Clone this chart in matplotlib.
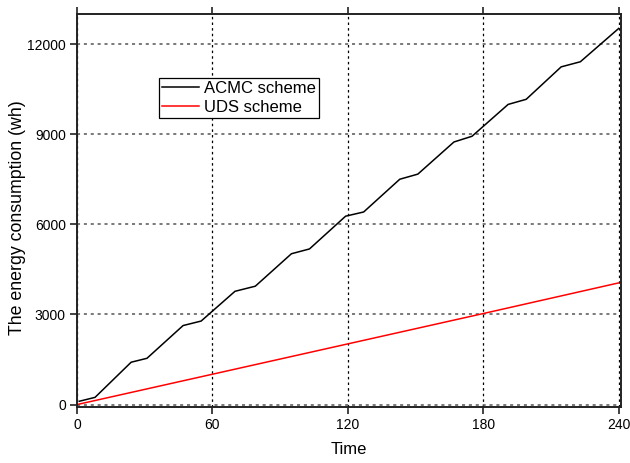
import numpy as np
import matplotlib.pyplot as plt

plt.rcParams['font.family'] = ['Liberation Sans', 'DejaVu Sans']

# ACMC scheme
acmc_t = [1, 8, 24, 31, 47, 55, 70, 79, 95, 103, 119, 127, 143, 151,
          167, 175, 191, 199, 214.5, 223, 240]
acmc_e = [110, 240, 1410, 1540, 2630, 2780, 3770, 3940, 5020, 5180, 6270,
          6410, 7500, 7670, 8740, 8930, 9990, 10160, 11240, 11410, 12520]

# UDS scheme
uds_t = [0, 60, 120, 180, 240]
uds_e = [0, 1010, 2020, 3030, 4050]

xticks = [0, 60, 120, 180, 240]
yticks = [0, 3000, 6000, 9000, 12000]

fig = plt.figure(figsize=(6.3, 4.63), dpi=100)
ax = fig.add_axes([0.1222, 0.121, 0.8635, 0.8488])

ax.plot(acmc_t, acmc_e, color='black', lw=1.1, label='ACMC scheme')
ax.plot(uds_t, uds_e, color='red', lw=1.1, label='UDS scheme')

ax.set_xlim(0, 241)
ax.set_ylim(-80, 13000)
ax.set_xticks(xticks)
ax.set_yticks(yticks)

ax.xaxis.grid(True, ls=(0, (2, 2.5)), color='black', lw=0.9)
ax.yaxis.grid(True, ls=(0, (2, 2.5)), color='#555555', lw=1.1)

for s in ax.spines.values():
    s.set_linewidth(1.4)
    s.set_color('#222222')

ax.tick_params(axis='both', direction='out', length=5, width=1.2,
               labelsize=10, pad=3, color='#222222')
ax.tick_params(axis='x', top=True, labeltop=False)

ax.set_xlabel('Time', fontsize=12)
ax.set_ylabel('The energy consumption (wh)', fontsize=12.8)
ax.xaxis.set_label_coords(0.5, -0.088)
ax.yaxis.set_label_coords(-0.094, 0.481)

leg = ax.legend(loc='upper left', bbox_to_anchor=(0.151, 0.837),
                borderaxespad=0, fontsize=12, fancybox=False,
                framealpha=1, edgecolor='black', handlelength=2.2,
                borderpad=0.18, labelspacing=0.25, handletextpad=0.3)
leg.get_frame().set_linewidth(0.9)

plt.savefig('out.png', dpi=100)
